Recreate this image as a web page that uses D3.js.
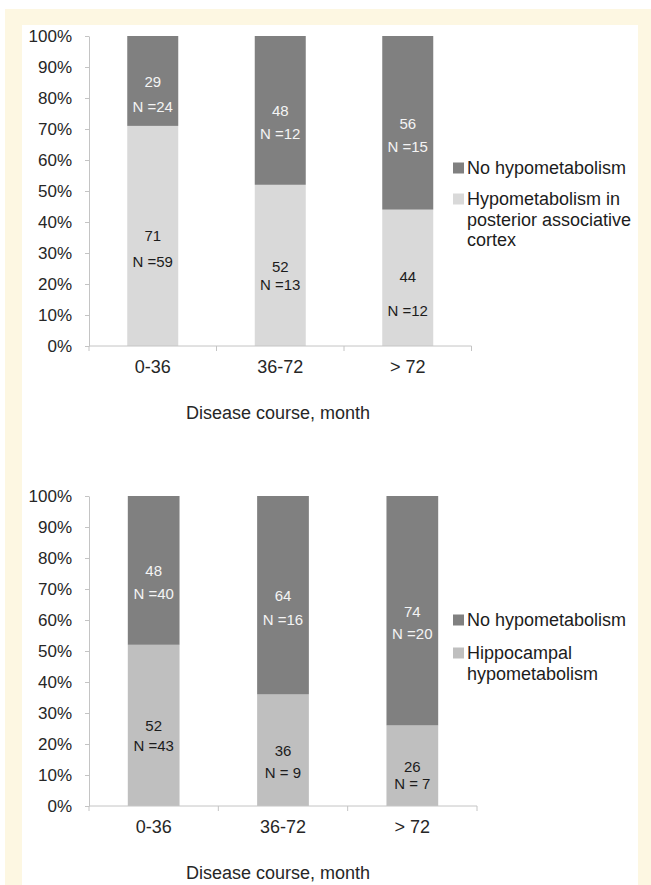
<!DOCTYPE html>
<html lang="en">
<head>
<meta charset="UTF-8">
<title>hypometabolism by disease course</title>
<style>
    body { margin: 0; background: #ffffff; }
    svg text { font-family: "Liberation Sans", Arial, sans-serif; }
</style>
<script src="https://cdn.jsdelivr.net/npm/d3@7"></script>
</head>
<body>
<svg id="fig" width="651" height="885"></svg>
<script>
// categories shared by both panels
const categories = ["0-36", "36-72", "> 72"];
const yTicks = [0, 10, 20, 30, 40, 50, 60, 70, 80, 90, 100];

// top panel: posterior associative cortex
const topLight = [71, 52, 44];
const topDark = [29, 48, 56];
const topLightN = ["N =59", "N =13", "N =12"];
const topDarkN = ["N =24", "N =12", "N =15"];
// where the two label lines sit, in percent units
const topLightPct = [[35.5, 27.4], [25.8, 20], [22.3, 11.6]];
const topDarkPct = [[85.2, 77.1], [76.1, 68.4], [71.9, 64.2]];
const topLegend = ["No hypometabolism", "Hypometabolism in|posterior associative|cortex"];

// bottom panel: hippocampal
const botLight = [52, 36, 26];
const botDark = [48, 64, 74];
const botLightN = ["N =43", "N = 9", "N = 7"];
const botDarkN = ["N =40", "N =16", "N =20"];
const botLightPct = [[25.9, 19.4], [17.8, 10.7], [12.9, 7.4]];
const botDarkPct = [[76.1, 68.6], [68, 60.2], [62.8, 55.7]];
const botLegend = ["No hypometabolism", "Hippocampal|hypometabolism"];

const svg = d3.select("#fig");

// page frame: cream border round a white panel
svg.append("rect").attr("x", 5).attr("y", 9).attr("width", 646).attr("height", 876).attr("fill", "#fdf7e2");
svg.append("rect").attr("x", 22).attr("y", 25).attr("width", 616).attr("height", 860).attr("fill", "#ffffff");

function drawPanel(o) {
    const g = svg.append("g");

    const y = d3.scaleLinear().domain([0, 100]).range([o.bottom, o.bottom - 310]);
    const x = d3.scaleBand().domain(categories).range([89, o.right])
        .paddingInner(0.6).paddingOuter(0.3);

    const rows = categories.map((c, i) => ({cat: c, light: o.light[i], dark: o.dark[i]}));
    const stack = d3.stack().keys(["light", "dark"])(rows);
    const fills = {light: o.lightColor, dark: "#808080"};

    g.selectAll("g.series")
        .data(stack)
        .join("g")
        .attr("fill", s => fills[s.key])
        .selectAll("rect")
        .data(s => s)
        .join("rect")
        .attr("x", d => x(d.data.cat))
        .attr("width", x.bandwidth())
        .attr("y", d => y(d[1]))
        .attr("height", d => y(d[0]) - y(d[1]));

    // y axis
    const ya = g.append("g")
        .attr("transform", "translate(89,0)")
        .call(d3.axisLeft(y).tickValues(yTicks).tickFormat(d => d + "%")
            .tickSizeInner(4).tickSizeOuter(0).tickPadding(13));
    ya.select(".domain").attr("stroke", "#c4c4c4");
    ya.selectAll(".tick line").attr("stroke", "#c4c4c4");
    ya.selectAll(".tick text").attr("font-size", 17).attr("fill", "#262626")
        .attr("font-family", "Liberation Sans, Arial, sans-serif");

    // x axis line with ticks at the band edges
    const xa = g.append("g");
    xa.append("line")
        .attr("x1", x.range()[0]).attr("x2", x.range()[1])
        .attr("y1", o.bottom).attr("y2", o.bottom)
        .attr("stroke", "#c4c4c4");
    const edges = d3.range(categories.length + 1).map(i => x.range()[0] + i * x.step());
    xa.selectAll("line.edge")
        .data(edges)
        .join("line")
        .attr("class", "edge")
        .attr("x1", d => d).attr("x2", d => d)
        .attr("y1", o.bottom).attr("y2", o.bottom + 5)
        .attr("stroke", "#c4c4c4");
    xa.selectAll("text")
        .data(categories)
        .join("text")
        .attr("x", d => x(d) + x.bandwidth() / 2)
        .attr("y", o.bottom + 21)
        .attr("text-anchor", "middle")
        .attr("dominant-baseline", "central")
        .attr("font-size", 18)
        .attr("fill", "#262626")
        .text(d => d);

    g.append("text")
        .attr("x", 278)
        .attr("y", o.bottom + 67)
        .attr("text-anchor", "middle")
        .attr("dominant-baseline", "central")
        .attr("font-size", 18)
        .attr("fill", "#262626")
        .text("Disease course, month");

    // two-line value labels in each segment
    function labels(values, ns, pcts, colour) {
        const lab = g.append("g")
            .attr("text-anchor", "middle")
            .attr("font-size", 15)
            .attr("fill", colour);
        categories.forEach((c, i) => {
            const cx = x(c) + x.bandwidth() / 2;
            lab.append("text").attr("x", cx).attr("y", y(pcts[i][0]))
                .attr("dominant-baseline", "central").text(values[i]);
            lab.append("text").attr("x", cx).attr("y", y(pcts[i][1]))
                .attr("dominant-baseline", "central").text(ns[i]);
        });
    }
    labels(o.dark, o.darkN, o.darkPct, "#f4f4f4");
    labels(o.light, o.lightN, o.lightPct, "#1c1c1c");

    // legend
    const lg = g.append("g");
    const legendColours = ["#808080", o.lightColor];
    o.legend.forEach((name, i) => {
        const ly = o.legendY[i];
        lg.append("rect").attr("x", 453).attr("y", ly - 5.5)
            .attr("width", 11).attr("height", 11).attr("fill", legendColours[i]);
        const t = lg.append("text").attr("x", 467).attr("y", ly)
            .attr("font-size", 18).attr("fill", "#1c1c1c");
        name.split("|").forEach((line, k) => {
            t.append("tspan").attr("x", 467).attr("y", ly + k * o.lineGap)
                .attr("dominant-baseline", "central").text(line);
        });
    });
}

drawPanel({
    bottom: 346, right: 471.5,
    light: topLight, dark: topDark,
    lightN: topLightN, darkN: topDarkN,
    lightPct: topLightPct, darkPct: topDarkPct,
    lightColor: "#d9d9d9",
    legend: topLegend, legendY: [168, 199], lineGap: 20.5
});

drawPanel({
    bottom: 806, right: 477,
    light: botLight, dark: botDark,
    lightN: botLightN, darkN: botDarkN,
    lightPct: botLightPct, darkPct: botDarkPct,
    lightColor: "#bfbfbf",
    legend: botLegend, legendY: [620, 653], lineGap: 20.5
});
</script>
</body>
</html>
